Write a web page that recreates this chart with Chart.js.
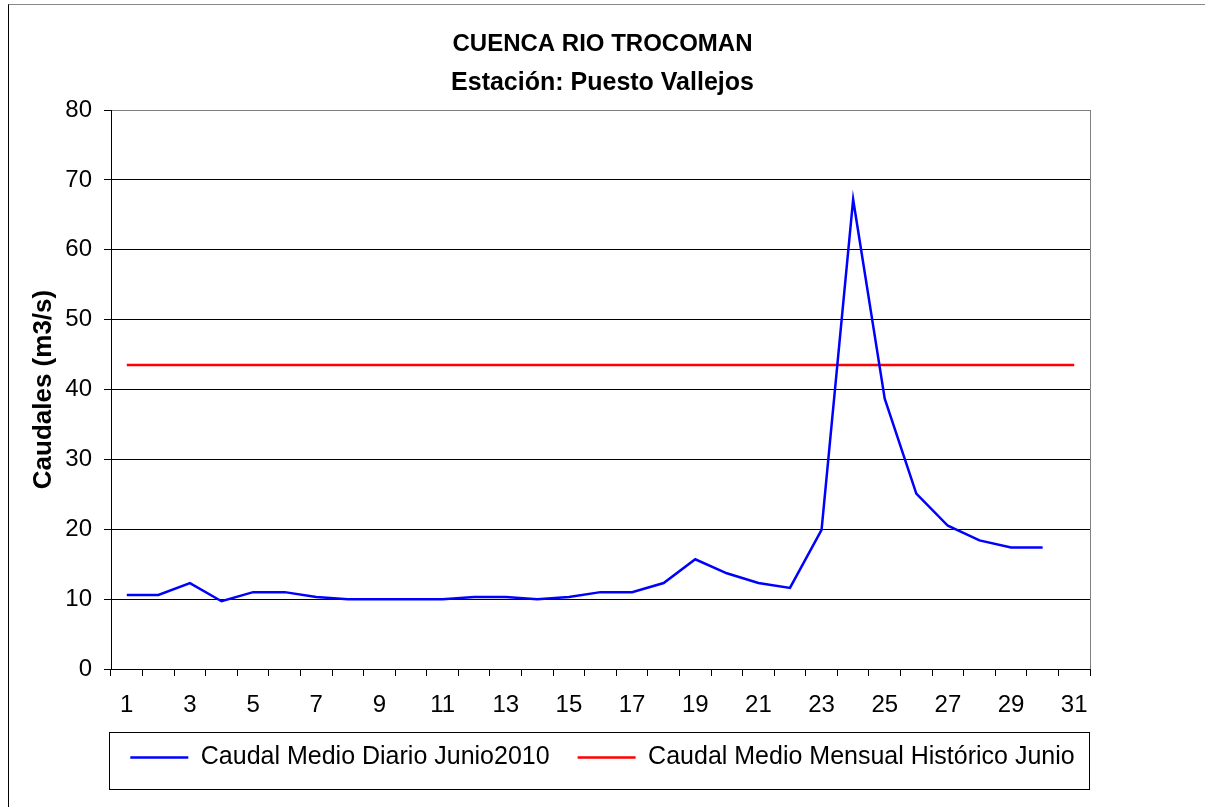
<!DOCTYPE html>
<html>
<head>
<meta charset="utf-8">
<title>Cuenca Rio Trocoman</title>
<script src="https://cdn.jsdelivr.net/npm/chart.js@4/dist/chart.umd.min.js"></script>
<style>
  html, body { margin: 0; padding: 0; background: #fff; }
  #marco { position: absolute; left: 8px; top: 4px; width: 1300px; height: 900px; border-left: 1px solid #000; border-top: 1px solid #888; }
  #wrap { position: absolute; left: 0; top: 0; width: 1205px; height: 807px; }
</style>
</head>
<body>
<div id="marco"></div>
<div id="wrap"><canvas id="grafico"></canvas></div>
<script>
// dias de junio 2010
const dias = ['1','2','3','4','5','6','7','8','9','10','11','12','13','14','15','16',
  '17','18','19','20','21','22','23','24','25','26','27','28','29','30','31']

// caudal medio diario (m3/s); el dia 31 no tiene dato
const caudalDiario = [10.6, 10.6, 12.3, 9.7, 11.0, 11.0, 10.3, 10.0, 10.0, 10.0, 10.0, 10.3, 10.3, 10.0, 10.3, 11.0,
  11.0, 12.3, 15.7, 13.7, 12.3, 11.6, 19.9, 67.2, 38.7, 25.1, 20.5, 18.4, 17.4, 17.4, null]

// caudal medio mensual historico de junio
const caudalHistorico = [43.5, 43.5, 43.5, 43.5, 43.5, 43.5, 43.5, 43.5, 43.5, 43.5, 43.5, 43.5, 43.5, 43.5, 43.5, 43.5,
  43.5, 43.5, 43.5, 43.5, 43.5, 43.5, 43.5, 43.5, 43.5, 43.5, 43.5, 43.5, 43.5, 43.5, 43.5]

const FUENTE = "'Liberation Sans', Arial, sans-serif"

// borde derecho del area de trazado y caja de la leyenda
const marcoPlugin = {
  id: 'marcoPlugin',
  afterDraw(chart) {
    const ctx = chart.ctx, a = chart.chartArea
    ctx.save()
    ctx.strokeStyle = '#808080'
    ctx.lineWidth = 1
    ctx.beginPath()
    ctx.moveTo(Math.round(a.right) + 0.5, a.top)
    ctx.lineTo(Math.round(a.right) + 0.5, a.bottom)
    ctx.stroke()

    const hb = chart.legend.legendHitBoxes[0]
    const cy = hb.top + hb.height / 2
    ctx.strokeStyle = '#000'
    ctx.strokeRect(Math.round(a.left) - 1.5, Math.round(cy - 26) + 0.5, Math.round(a.right - a.left) + 1, 57)
    ctx.restore()
  }
}

new Chart(document.getElementById('grafico'), {
  type: 'line',
  data: {
    labels: dias,
    datasets: [{
      label: 'Caudal Medio Diario Junio2010',
      data: caudalDiario,
      borderColor: '#0000ff',
      backgroundColor: '#0000ff',
      borderWidth: 2.5,
      pointRadius: 0,
      tension: 0,
      spanGaps: false
    }, {
      label: 'Caudal Medio Mensual Histórico Junio',
      data: caudalHistorico,
      borderColor: '#ff0000',
      backgroundColor: '#ff0000',
      borderWidth: 2.5,
      pointRadius: 0,
      tension: 0
    }]
  },
  options: {
    responsive: true,
    maintainAspectRatio: false,
    animation: false,
    layout: { padding: { top: 0, left: 20, right: 20, bottom: 27 } },
    plugins: {
      title: {
        display: true,
        text: 'CUENCA RIO TROCOMAN',
        color: '#000',
        font: { family: FUENTE, size: 24, weight: 'bold', lineHeight: '28px' },
        padding: { top: 30, bottom: 0 }
      },
      subtitle: {
        display: true,
        text: 'Estación: Puesto Vallejos',
        color: '#000',
        font: { family: FUENTE, size: 25, weight: 'bold', lineHeight: '30px' },
        padding: { top: 10, bottom: 12 }
      },
      legend: {
        position: 'bottom',
        labels: {
          color: '#000',
          font: { family: FUENTE, size: 25, lineHeight: 1 },
          usePointStyle: true,
          pointStyle: 'line',
          pointStyleWidth: 58,
          padding: 28
        }
      },
      tooltip: { enabled: false }
    },
    scales: {
      x: {
        offset: true,
        afterFit: (s) => { s.height = 48 },
        grid: { drawOnChartArea: false, offset: true, tickLength: 7, color: '#000' },
        border: { color: '#000', width: 1 },
        ticks: {
          autoSkip: false,
          maxRotation: 0,
          padding: 17,
          color: '#000',
          font: { family: FUENTE, size: 24, lineHeight: 1 },
          callback: function (val, i) { return i % 2 === 0 ? this.getLabelForValue(val) : '' }
        }
      },
      y: {
        min: 0,
        max: 80,
        afterFit: (s) => { s.width = 91 },
        grid: {
          tickLength: 7,
          color: (c) => (c.tick && c.tick.value === 80 ? '#808080' : '#000'),
          tickColor: '#000'
        },
        border: { color: '#000', width: 1 },
        ticks: {
          stepSize: 10,
          padding: 12,
          color: '#000',
          font: { family: FUENTE, size: 24 }
        },
        title: {
          display: true,
          text: 'Caudales (m3/s)',
          color: '#000',
          font: { family: FUENTE, size: 26, weight: 'bold' },
          padding: { top: 8, bottom: 0 }
        }
      },
      // eje derecho vacio: solo reserva el margen a la derecha del area de trazado
      yDer: {
        position: 'right',
        min: 0,
        max: 80,
        afterFit: (s) => { s.width = 95 },
        grid: { drawOnChartArea: false, drawTicks: false },
        border: { display: false },
        ticks: { display: false }
      }
    }
  },
  plugins: [marcoPlugin]
})
</script>
</body>
</html>
